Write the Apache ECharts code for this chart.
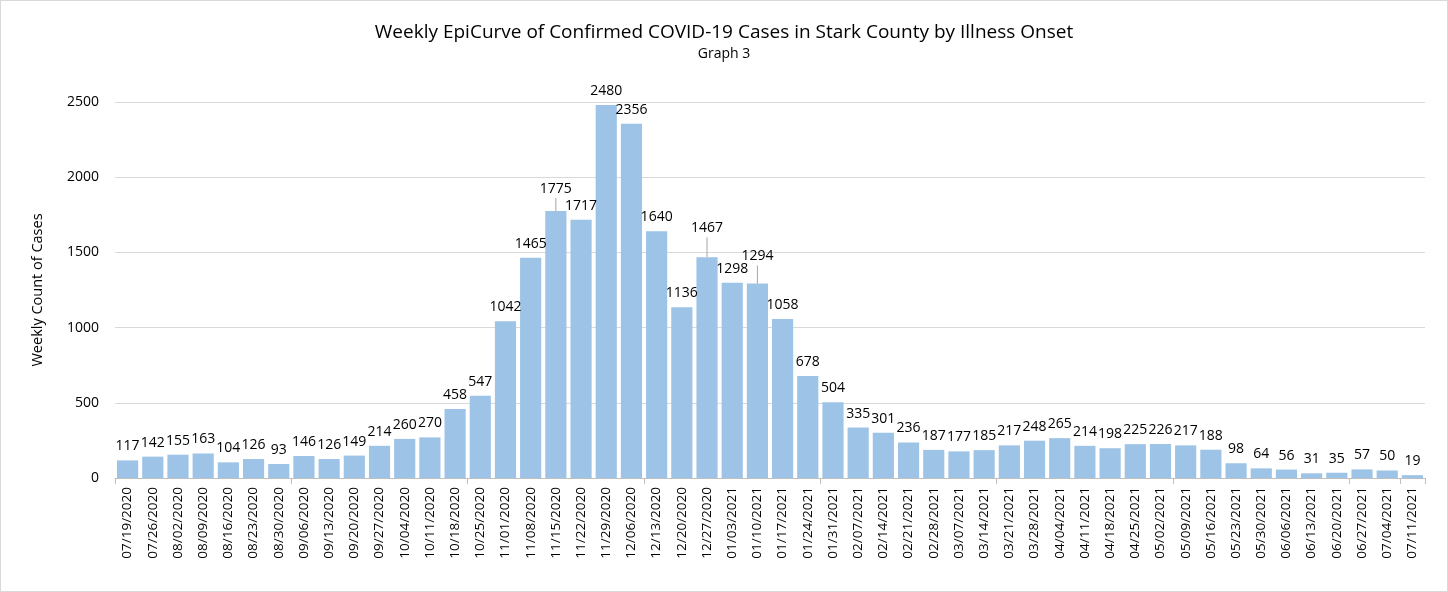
<!DOCTYPE html>
<html>
<head>
<meta charset="utf-8">
<script src="https://cdn.jsdelivr.net/npm/echarts@6/dist/echarts.min.js"></script>
<style>
html,body{margin:0;padding:0;background:#fff;}
#c{position:absolute;left:0;top:0;width:1446px;height:590px;border:1px solid #d9d9d9;}
</style>
</head>
<body>
<div id="c"></div>
<script>
const categories = ["07/19/2020","07/26/2020","08/02/2020","08/09/2020","08/16/2020","08/23/2020","08/30/2020","09/06/2020","09/13/2020","09/20/2020","09/27/2020","10/04/2020","10/11/2020","10/18/2020","10/25/2020","11/01/2020","11/08/2020","11/15/2020","11/22/2020","11/29/2020","12/06/2020","12/13/2020","12/20/2020","12/27/2020","01/03/2021","01/10/2021","01/17/2021","01/24/2021","01/31/2021","02/07/2021","02/14/2021","02/21/2021","02/28/2021","03/07/2021","03/14/2021","03/21/2021","03/28/2021","04/04/2021","04/11/2021","04/18/2021","04/25/2021","05/02/2021","05/09/2021","05/16/2021","05/23/2021","05/30/2021","06/06/2021","06/13/2021","06/20/2021","06/27/2021","07/04/2021","07/11/2021"];
const cases = [117,142,155,163,104,126,93,146,126,149,214,260,270,458,547,1042,1465,1775,1717,2480,2356,1640,1136,1467,1298,1294,1058,678,504,335,301,236,187,177,185,217,248,265,214,198,225,226,217,188,98,64,56,31,35,57,50,19];
const yTicks = [0,500,1000,1500,2000,2500];
const titleText = "Weekly EpiCurve of Confirmed COVID-19 Cases in Stark County by Illness Onset";
const subtitleText = "Graph 3";
const yAxisTitle = "Weekly Count of Cases";
// indices of labels that sit higher with a leader line, and leader length
const movedLabels = {17: 13, 23: 20, 25: 18};

const FONT = "'Open Sans', 'Noto Sans', sans-serif";
const chart = echarts.init(document.getElementById('c'));
chart.setOption({
  animation: false,
  title: {
    text: titleText,
    subtext: subtitleText,
    left: 'center',
    top: 17,
    itemGap: 5,
    textStyle: {fontFamily: FONT, fontSize: 19, fontWeight: 'normal', color: '#000'},
    subtextStyle: {fontFamily: FONT, fontSize: 14, color: '#000'}
  },
  grid: {left: 114, right: 22, top: 101, bottom: 113},
  xAxis: {
    type: 'category',
    data: categories,
    axisLine: {lineStyle: {color: '#bfbfbf'}},
    axisTick: {show: true, interval: 6, length: 6, lineStyle: {color: '#bfbfbf'}},
    axisLabel: {interval: 0, rotate: 90, margin: 9, fontFamily: FONT, fontSize: 13.5, color: '#000'}
  },
  yAxis: {
    type: 'value',
    min: 0, max: 2500, interval: 500,
    name: yAxisTitle,
    nameLocation: 'middle',
    nameGap: 70,
    nameTextStyle: {fontFamily: FONT, fontSize: 14.5, color: '#000'},
    axisLine: {show: false},
    axisTick: {show: false},
    axisLabel: {margin: 16, fontFamily: FONT, fontSize: 14, color: '#000',
      formatter: v => yTicks.includes(v) ? String(v) : ''},
    splitLine: {lineStyle: {color: '#d9d9d9', width: 1}}
  },
  series: [{
    type: 'bar',
    data: cases.map((v, i) => movedLabels[i] ? {
      value: v,
      label: {
        distance: 0,
        formatter: '{v|{c}}\n{l|}',
        rich: {
          v: {fontFamily: FONT, fontSize: 14, color: '#000', align: 'center', height: 18},
          l: {width: 1, height: movedLabels[i], backgroundColor: '#a6a6a6', align: 'center'}
        }
      }
    } : v),
    barCategoryGap: '16%',
    itemStyle: {color: '#9dc3e6'},
    label: {show: true, position: 'top', distance: 7, fontFamily: FONT, fontSize: 14, color: '#000'}
  }]
});
</script>
</body>
</html>
